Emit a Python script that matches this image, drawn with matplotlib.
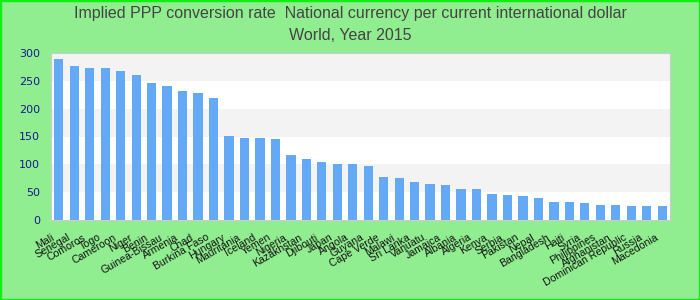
import matplotlib
matplotlib.use("Agg")
import matplotlib.pyplot as plt
from matplotlib.transforms import ScaledTranslation

countries = ["Mali", "Senegal", "Comoros", "Togo", "Cameroon", "Niger", "Benin",
             "Guinea-Bissau", "Armenia", "Chad", "Burkina Faso", "Hungary",
             "Mauritania", "Iceland", "Yemen", "Nigeria", "Kazakhstan", "Djibouti",
             "Japan", "Angola", "Guyana", "Cape Verde", "Malawi", "Sri Lanka",
             "Vanuatu", "Jamaica", "Albania", "Algeria", "Kenya", "Serbia",
             "Pakistan", "Nepal", "Bangladesh", "Haiti", "Syria", "Philippines",
             "Afghanistan", "Dominican Republic", "Russia", "Macedonia"]
values = [290, 276, 274, 274, 268, 261, 247, 240, 231, 229, 220, 151,
          148, 147, 145, 117, 110, 104, 101, 101, 97, 77, 75, 68,
          65, 63, 56, 56, 47, 45, 43, 40, 32, 32, 30, 27,
          27, 25, 25, 25]
yticks = [0, 50, 100, 150, 200, 250, 300]

fig = plt.figure(figsize=(7, 3), dpi=100, facecolor="#90ee90")
fig.patches.append(plt.Rectangle((0, 0), 1, 1, transform=fig.transFigure,
                                 fill=False, edgecolor="#11ee11", linewidth=2.5))
ax = fig.add_axes([0.073, 0.267, 0.884, 0.556])
ax.set_facecolor("white")

# alternating bands, top one grey
for i in range(len(yticks) - 1):
    if i % 2 == 1:
        ax.axhspan(yticks[i], yticks[i + 1], color="#f3f3f3", zorder=0, linewidth=0)

ax.bar(range(len(countries)), values, width=0.6, color="#63a9f5", zorder=2)
ax.set_xlim(-0.5, len(countries) - 0.5)
ax.set_ylim(0, 300)
ax.set_yticks(yticks)
ax.tick_params(axis="y", length=0, labelsize=8, labelcolor="#1a1a8c", pad=8)
ax.tick_params(axis="x", length=0, pad=12)
ax.set_xticks(range(len(countries)))
ax.set_xticklabels(countries, rotation=30, ha="right", va="center",
                   rotation_mode="anchor", fontsize=7.6, family="Liberation Sans",
                   color="#111111")
shift = ScaledTranslation(-5 / 100, 0, fig.dpi_scale_trans)
for lbl in ax.get_xticklabels():
    lbl.set_transform(lbl.get_transform() + shift)
for s in ax.spines.values():
    s.set_color("#cccccc")

fig.text(0.5, 0.955, "Implied PPP conversion rate  National currency per current international dollar",
         ha="center", va="center", fontsize=11.5, color="#444444", family="Liberation Sans")
fig.text(0.5, 0.88, "World, Year 2015", ha="center", va="center",
         fontsize=11.5, color="#444444", family="Liberation Sans")

fig.savefig("out.png", dpi=100, facecolor=fig.get_facecolor())
